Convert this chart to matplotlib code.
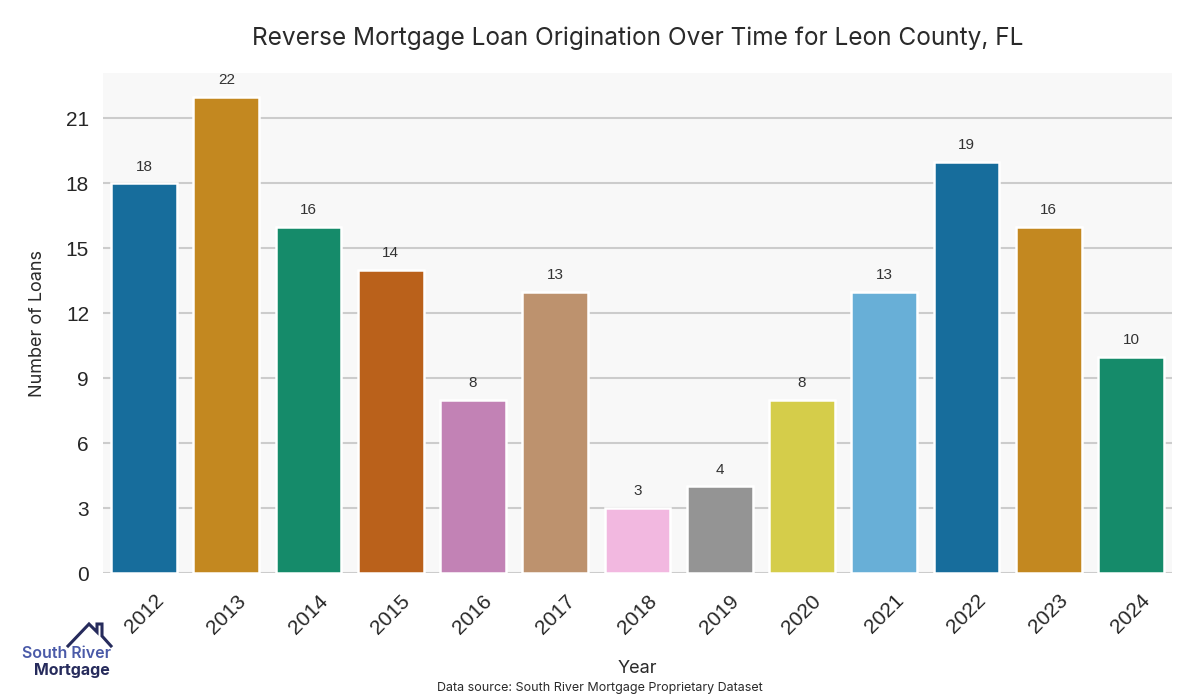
import colorsys
import matplotlib
matplotlib.use("Agg")
import matplotlib.pyplot as plt
from matplotlib.lines import Line2D

years = ["2012", "2013", "2014", "2015", "2016", "2017", "2018",
         "2019", "2020", "2021", "2022", "2023", "2024"]
loans = [18, 22, 16, 14, 8, 13, 3, 4, 8, 13, 19, 16, 10]

# seaborn "colorblind" palette, desaturated to 0.75 like sns.barplot does
base_palette = ["#0173B2", "#DE8F05", "#029E73", "#D55E00", "#CC78BC",
                "#CA9161", "#FBAFE4", "#949494", "#ECE133", "#56B4E9"]


def desat(hexcol, prop=0.75):
    r, g, b = matplotlib.colors.to_rgb(hexcol)
    h, l, s = colorsys.rgb_to_hls(r, g, b)
    return colorsys.hls_to_rgb(h, l, s * prop)


colors = [desat(base_palette[i % len(base_palette)]) for i in range(len(years))]

title_font = ["Inter", "DejaVu Sans"]
tick_font = ["Liberation Sans", "DejaVu Sans"]

fig = plt.figure(figsize=(12, 7), dpi=100)
ax = fig.add_axes([0.0858, 0.1814, 0.8909, 0.7143])
ax.set_facecolor("#f8f8f8")

x = range(len(years))
bars = ax.bar(x, loans, width=0.8, color=colors, edgecolor="white", linewidth=1.8, zorder=3)
ax.bar_label(bars, labels=[str(v) for v in loans], padding=7, fontsize=11,
             color="#333333", family=tick_font)

ax.set_xlim(-0.5, len(years) - 0.5)
ax.set_ylim(0, max(loans) * 1.05)
ax.set_yticks(range(0, 22, 3))
ax.set_xticks(list(x))
ax.set_xticklabels(years, rotation=45, family=tick_font, fontsize=15, color="#262626")
for lab in ax.get_yticklabels():
    lab.set_family(tick_font)
    lab.set_fontsize(15)
    lab.set_color("#262626")
ax.tick_params(axis="y", length=0, pad=10)
ax.tick_params(axis="x", length=0, pad=13)
ax.yaxis.grid(True, color="#cccccc", linewidth=1.5, zorder=0)
ax.set_axisbelow(True)
for s in ax.spines.values():
    s.set_visible(False)

ax.set_title("Reverse Mortgage Loan Origination Over Time for Leon County, FL",
             family=title_font, fontsize=17.6, color="#2a2a2a", pad=20)
ax.set_xlabel("Year", family=title_font, fontsize=13, color="#2a2a2a", labelpad=16)
ax.set_ylabel("Number of Loans", family=title_font, fontsize=13, color="#2a2a2a", labelpad=14)

fig.text(0.5, 0.017, "Data source: South River Mortgage Proprietary Dataset",
         ha="center", va="center", fontsize=9, family=title_font, color="#2a2a2a")

# logo
W, H = 1200.0, 700.0
navy = "#262b5c"
def px(xp, yp):
    return xp / W, 1 - yp / H
roof = [px(68, 646), px(89, 624), px(97, 632), px(97, 624), px(102, 624), px(102, 636), px(111, 646)]
fig.add_artist(Line2D([p[0] for p in roof], [p[1] for p in roof], color=navy,
                      linewidth=2.2, transform=fig.transFigure, solid_joinstyle="miter"))
fig.text(67 / W, 1 - 654 / H, "South River", ha="center", va="center", fontsize=11.5,
         fontweight="semibold", family=title_font, color="#4a5aa8")
fig.text(110 / W, 1 - 670 / H, "Mortgage", ha="right", va="center", fontsize=11.5,
         fontweight="bold", family=title_font, color=navy)

fig.savefig("out.png", dpi=100)
